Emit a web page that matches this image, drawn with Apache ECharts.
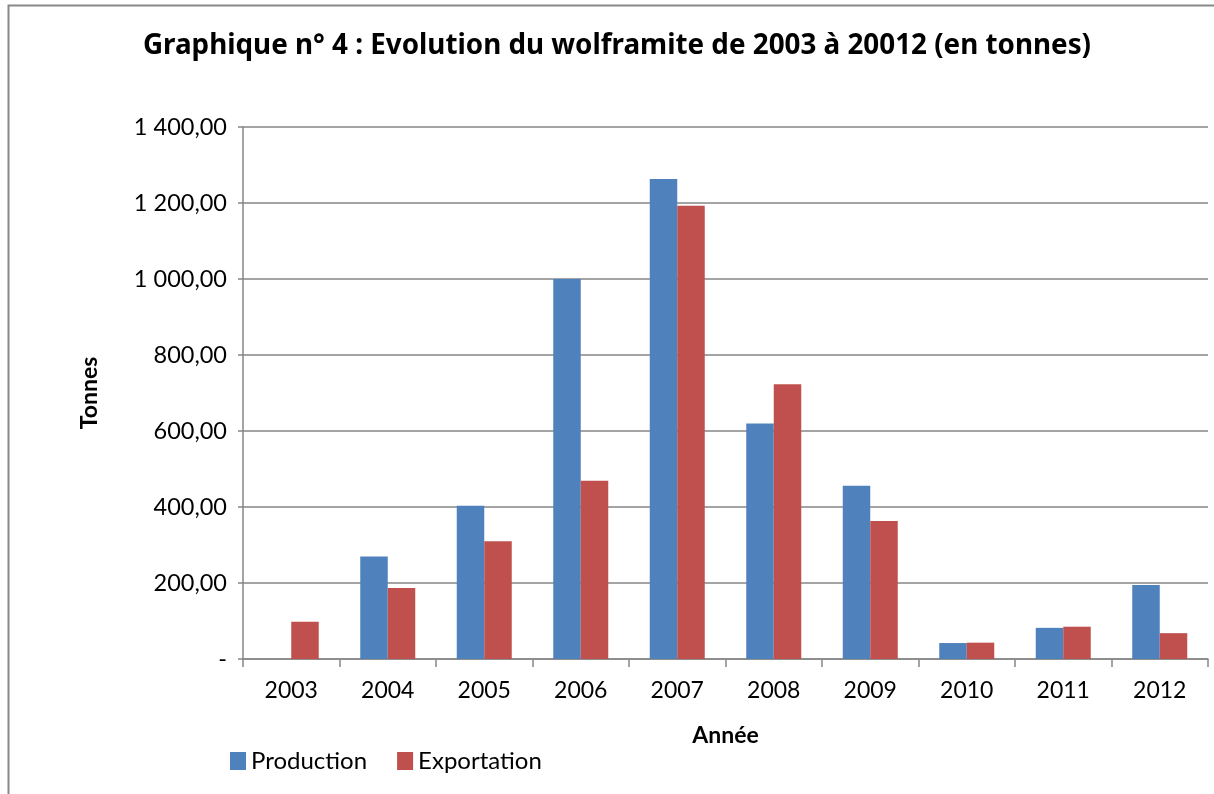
<!DOCTYPE html>
<html>
<head>
<meta charset="utf-8">
<script src="https://cdn.jsdelivr.net/npm/echarts@6/dist/echarts.min.js"></script>
<style>
    html, body { margin: 0; padding: 0; background: #fff; }
    #chart { width: 1214px; height: 794px; }
</style>
</head>
<body>
<div id="chart"></div>
<script>
    // données
    var annees = ['2003', '2004', '2005', '2006', '2007', '2008', '2009', '2010', '2011', '2012'];
    var production = [null, 270, 403, 1000, 1263, 620, 456, 42, 82, 195];
    var exportation = [98, 187, 310, 469, 1193, 723, 363, 43, 85, 68];
    var yTicks = [0, 200, 400, 600, 800, 1000, 1200, 1400];

    var policeTitre = 'Noto Sans';
    var police = 'Lato';

    // format "1 400,00", zéro -> "-"
    function formatTonnes(v) {
        if (v === 0) return '-';
        var s = v.toFixed(2).split('.');
        var ent = s[0].replace(/\B(?=(\d{3})+(?!\d))/g, ' ');
        return ent + ',' + s[1];
    }

    var chart = echarts.init(document.getElementById('chart'));
    var option = {
        backgroundColor: '#fff',
        animation: false,
        title: {
            text: 'Graphique n° 4 : Evolution du wolframite de 2003 à 20012 (en tonnes)',
            left: 612,
            top: 27,
            textAlign: 'center',
            textStyle: { fontFamily: policeTitre, fontWeight: 'bold', fontSize: 27.8, color: '#000' }
        },
        legend: {
            left: 230,
            top: 749,
            padding: 0,
            itemWidth: 16,
            itemHeight: 18,
            itemGap: 30,
            icon: 'rect',
            textStyle: { fontFamily: police, fontSize: 24, color: '#000', padding: [0, 0, 0, 0] },
            data: ['Production', 'Exportation']
        },
        graphic: [{
            type: 'rect',
            shape: { x: 8.5, y: 5.5, width: 1220, height: 800 },
            style: { fill: 'none', stroke: '#888', lineWidth: 2 },
            silent: true
        }],
        grid: { left: 243, right: 6, top: 127, bottom: 135 },
        xAxis: {
            type: 'category',
            data: annees,
            name: 'Année',
            nameLocation: 'middle',
            nameGap: 65,
            nameTextStyle: { fontFamily: police, fontWeight: 'bold', fontSize: 23, color: '#000' },
            axisLine: { lineStyle: { color: '#868686', width: 1.5 } },
            axisTick: { show: true, alignWithLabel: false, length: 8, lineStyle: { color: '#868686', width: 1.5 } },
            axisLabel: { fontFamily: police, fontSize: 23, color: '#000', margin: 20 }
        },
        yAxis: {
            type: 'value',
            min: 0,
            max: 1400,
            interval: 200,
            name: 'Tonnes',
            nameLocation: 'middle',
            nameGap: 142,
            nameRotate: 90,
            nameTextStyle: { fontFamily: police, fontWeight: 'bold', fontSize: 23, color: '#000' },
            axisLine: { show: true, lineStyle: { color: '#868686', width: 1.5 } },
            axisTick: { show: true, length: 5, lineStyle: { color: '#868686', width: 1.5 } },
            axisLabel: {
                fontFamily: police, fontSize: 23.5, color: '#000', margin: 16,
                formatter: function(v) { return yTicks.indexOf(v) >= 0 ? formatTonnes(v) : ''; }
            },
            splitLine: { lineStyle: { color: '#868686', width: 1.5 } }
        },
        series: [
            {
                name: 'Production',
                type: 'bar',
                data: production,
                barGap: '0%',
                barCategoryGap: '43%',
                itemStyle: { color: '#4F81BD' }
            },
            {
                name: 'Exportation',
                type: 'bar',
                data: exportation,
                barGap: '0%',
                barCategoryGap: '43%',
                itemStyle: { color: '#C0504D' }
            }
        ]
    };
    chart.setOption(option);

    window.onresize = function() {
        chart.resize();
    };
</script>
</body>
</html>
